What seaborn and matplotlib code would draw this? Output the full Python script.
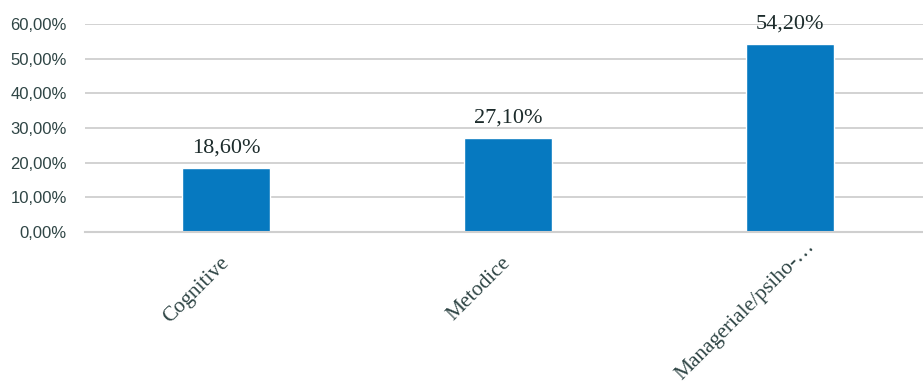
"""Share of competence types, bar chart with percentage labels."""
import matplotlib
matplotlib.use("Agg")
import matplotlib.pyplot as plt
import matplotlib.transforms as mtransforms
from matplotlib.ticker import FuncFormatter, MultipleLocator
import pandas as pd
import seaborn as sns

BLUE = "#0679c0"
GRID = "#cfcfcf"
TEXT = "#2f4545"

categories = ["Cognitive", "Metodice", "Manageriale/psiho-…"]
shares = [18.6, 27.1, 54.2]
y_ticks = [0, 10, 20, 30, 40, 50, 60]


def _pct(value, _pos=None):
    return f"{value:.2f}%".replace(".", ",")


def main():
    sns.set_theme(style="white")
    data = pd.DataFrame({"category": categories, "share": shares})

    fig = plt.figure(figsize=(9.23, 3.87), dpi=100)
    ax = fig.add_axes([85 / 923, 155 / 387, 846 / 923, 208 / 387])
    sns.barplot(data=data, x="category", y="share", color=BLUE,
                width=0.315, saturation=1, ax=ax)

    ax.set_ylim(y_ticks[0], y_ticks[-1])
    ax.yaxis.set_major_locator(MultipleLocator(10))
    ax.yaxis.set_major_formatter(FuncFormatter(_pct))
    ax.set_axisbelow(True)
    ax.grid(axis="y", color=GRID, linewidth=1.3)
    ax.grid(axis="x", visible=False)
    for side in ["left", "right", "top"]:
        ax.spines[side].set_visible(False)
    ax.spines["bottom"].set_color(GRID)
    ax.spines["bottom"].set_linewidth(1.5)
    ax.set_xlabel("")
    ax.set_ylabel("")

    ax.tick_params(axis="y", length=0, pad=13, labelcolor=TEXT)
    for label in ax.get_yticklabels():
        label.set_family("Liberation Sans")
        label.set_fontsize(12)
    ax.tick_params(axis="x", length=0, pad=20, labelcolor=TEXT)
    for label in ax.get_xticklabels():
        label.set_family("Liberation Serif")
        label.set_fontsize(15.5)
        label.set_rotation(45)
        label.set_ha("right")
        label.set_va("center")
        label.set_rotation_mode("anchor")
    # the long label sits a bit higher and to the right in the original
    long_label = ax.get_xticklabels()[-1]
    long_label.set_transform(long_label.get_transform()
                             + mtransforms.Affine2D().translate(22, 16))

    for container in ax.containers:
        for bar, value in zip(container, shares):
            ax.annotate(_pct(value), (bar.get_x() + bar.get_width() / 2, value),
                        xytext=(0, 11), textcoords="offset points",
                        ha="center", va="baseline", family="Liberation Serif",
                        fontsize=16, color="#1c2b2b")

    fig.savefig("out.png", dpi=100)


if __name__ == "__main__":
    main()
